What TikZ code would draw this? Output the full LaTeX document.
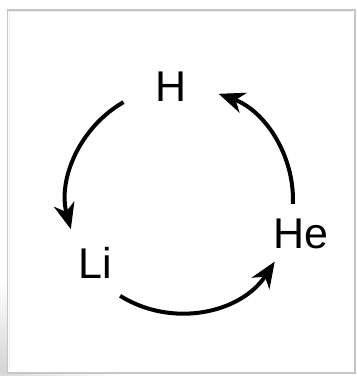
\documentclass[tikz,border=0pt]{standalone}
\usepackage{fontspec}
\setmainfont{Liberation Sans}
\usepackage{tikz}
\usetikzlibrary{arrows.meta}

\begin{document}
\begin{tikzpicture}[x=1pt, y=1pt, >={Stealth[length=26pt, width=21pt, inset=8pt]},
  elem/.style={anchor=base, inner sep=0pt, font=\fontsize{43}{48}\selectfont},
  cycle/.style={->, line width=4pt}]
\useasboundingbox (0,0) rectangle (357,376);
% frame
\shade[top color=white, bottom color=gray!35] (0,0) rectangle (7,95);
\shade[left color=gray!30, right color=white] (0,0) rectangle (120,3);
\draw[gray!45, line width=1.2pt] (7.5,3) rectangle (355,366);
\draw[gray!15, line width=1pt] (9.5,4.5) -- (9.5,364.5) -- (353,364.5);

\coordinate (c) at (180,176);
\def\r{113}

\node[elem] (H) at (171,274) {H};
\node[elem] (He) at (300.5,128) {He};
\node[elem] (Li) at (95,98) {Li};

% arrows around the cycle
\draw[cycle] ([shift={(120:\r)}]c) arc[start angle=120, end angle=195, radius=\r];
\draw[cycle] ([shift={(238:\r)}]c) arc[start angle=238, end angle=327, radius=\r];
\draw[cycle] ([shift={(358:\r)}]c) arc[start angle=358, end angle=430, radius=\r];
\end{tikzpicture}
\end{document}
